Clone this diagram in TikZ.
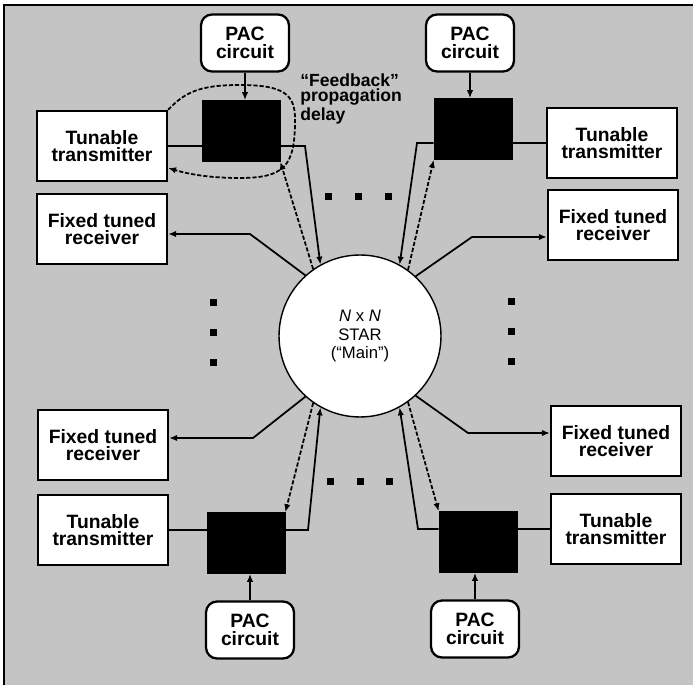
\documentclass[tikz,border=0pt]{standalone}
\usepackage{fontspec}
\setmainfont{Liberation Sans}
\usetikzlibrary{arrows.meta, positioning, calc}
\definecolor{scangray}{HTML}{C4C4C4}

\begin{document}
\begin{tikzpicture}[
    x=0.02cm, y=-0.02cm,
    every node/.style={font=\bfseries\fontsize{11}{10}\selectfont},
    unit/.style={
        draw, fill=white, line width=1.3pt,
        minimum width=2.6cm, minimum height=1.4cm,
        align=center, inner sep=0pt
    },
    pac/.style={
        draw, fill=white, rounded corners=0.22cm, line width=1.3pt,
        minimum width=1.76cm, minimum height=1.14cm,
        align=center, inner sep=0pt
    },
    blk/.style={draw, fill=black, minimum width=1.56cm, minimum height=1.22cm, inner sep=0pt},
    hub/.style={
        circle, draw, fill=white, line width=0.8pt,
        minimum size=3.24cm, align=center,
        font=\fontsize{9.5}{10.4}\selectfont
    },
    link/.style={line width=1pt},
    arrow/.style={-{Latex[length=4.5pt,width=3.6pt]}, line width=1pt},
    dasharrow/.style={arrow, line width=1pt, dash pattern=on 2.4pt off 1.1pt},
    lbl/.style={anchor=north west, align=left, inner sep=0pt, font=\bfseries\fontsize{10}{9}\selectfont}
]

% ── BACKGROUND ─────────────────────────────────────────────────
\useasboundingbox (0,0) rectangle (693,685);
\fill[scangray] (4,5) rectangle (693,685);
\draw[line width=0.8pt] (4,685) -- (4,5) -- (693,5);

% === STAR ===
\node[hub] (star) at (360,336) {\textit{N} x \textit{N}\\STAR\\(“Main”)};

% === TOP LEFT ===
\node[pac]  (pac1) at (245,43)  {PAC\\circuit};
\node[blk]  (bb1)  at (241,131) {};
\node[unit] (ttx1) at (102,146) {Tunable\\transmitter};
\node[unit] (ftr1) at (102,229) {Fixed tuned\\receiver};
\node[lbl]  (fblabel) at (300,73) {“Feedback”\\propagation\\delay};

% === TOP RIGHT ===
\node[pac]  (pac2) at (470,43)  {PAC\\circuit};
\node[blk]  (bb2)  at (473,129) {};
\node[unit] (ttx2) at (612,143) {Tunable\\transmitter};
\node[unit] (ftr2) at (613,225) {Fixed tuned\\receiver};

% === BOTTOM LEFT ===
\node[unit] (ftr3) at (103,445) {Fixed tuned\\receiver};
\node[unit] (ttx3) at (103,530) {Tunable\\transmitter};
\node[blk]  (bb3)  at (246,543) {};
\node[pac]  (pac3) at (250,630) {PAC\\circuit};

% === BOTTOM RIGHT ===
\node[unit] (ftr4) at (616,441) {Fixed tuned\\receiver};
\node[unit] (ttx4) at (616,529) {Tunable\\transmitter};
\node[blk]  (bb4)  at (478,542) {};
\node[pac]  (pac4) at (475,629) {PAC\\circuit};

% bend points
\coordinate (k1) at (305,146);
\coordinate (r1) at (250,234);
\coordinate (k2) at (417,143);
\coordinate (r2) at (472,237);
\coordinate (k3) at (308,530);
\coordinate (r3) at (253,438);
\coordinate (k4) at (418,529);
\coordinate (r4) at (468,433);
\coordinate (fb) at (170,168);

% ── DOTS ───────────────────────────────────────────────────────
\foreach \x in {328,358,388} \fill (\x,197) +(-3.5,-3.5) rectangle +(3.5,3.5);
\foreach \x in {330,360,389} \fill (\x,482) +(-3.5,-3.5) rectangle +(3.5,3.5);
\foreach \y in {303,333,363} \fill (213,\y) +(-3.5,-3.5) rectangle +(3.5,3.5);
\foreach \y in {302,332,362} \fill (511,\y) +(-3.5,-3.5) rectangle +(3.5,3.5);

% ── ARROWS ─────────────────────────────────────────────────────

% PAC -> control
\draw[arrow] (pac1.south) -- (pac1.south |- bb1.north);
\draw[arrow] (pac2.south) -- (pac2.south |- bb2.north);
\draw[arrow] (pac3.north) -- (pac3.north |- bb3.south);
\draw[arrow] (pac4.north) -- (pac4.north |- bb4.south);

% transmitter -- control
\draw[link] (ttx1) -- (ttx1 -| bb1.west);
\draw[link] (ttx2) -- (ttx2 -| bb2.east);
\draw[link] (ttx3) -- (ttx3 -| bb3.west);
\draw[link] (ttx4) -- (ttx4 -| bb4.east);

% control -> star
\draw[arrow] (bb1.east |- k1) -- (k1) -- (star.119);
\draw[arrow] (bb2.west |- k2) -- (k2) -- (star.61);
\draw[arrow] (bb3.east |- k3) -- (k3) -- (star.241);
\draw[arrow] (bb4.west |- k4) -- (k4) -- (star.299);

% star -> control (feedback)
\draw[dasharrow] (star.125) -- (bb1.south east);
\draw[dasharrow] (star.54)  -- (bb2.south west);
\draw[dasharrow] (star.235) -- (bb3.north east);
\draw[dasharrow] (star.306) -- (bb4.north west);

% star -> receivers
\draw[arrow] (star.132) -- (r1) -- (ftr1.east |- r1);
\draw[arrow] (star.47)  -- (r2) -- (ftr2.west |- r2);
\draw[arrow] (star.228) -- (r3) -- (ftr3.east |- r3);
\draw[arrow] (star.313) -- (r4) -- (ftr4.west |- r4);

% feedback loop
\draw[dasharrow] (ttx1.north east) .. controls (185,92) and (200,85) .. (240,85)
    .. controls (290,85) and (296,98) .. (295,125)
    .. controls (294,165) and (285,178) .. (240,178)
    .. controls (205,178) and (185,173) .. (ttx1.east |- fb);

\end{tikzpicture}
\end{document}
